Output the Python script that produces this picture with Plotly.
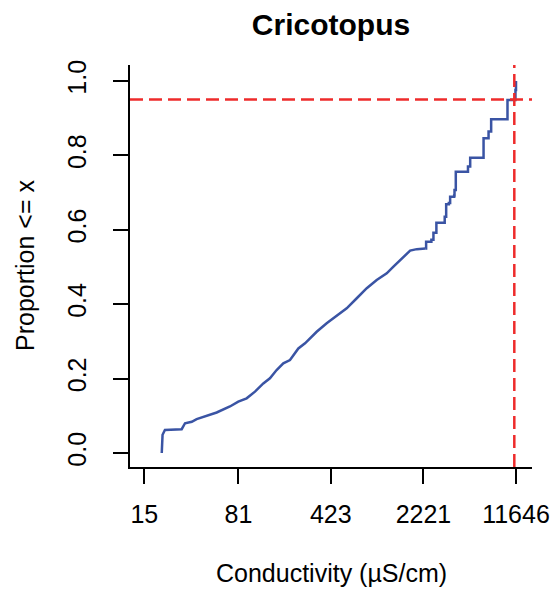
import plotly.graph_objects as go

# Smooth (dense) part of the empirical CDF
smooth_cond = [20.5, 20.8, 21.7, 29.3, 31.1, 35.1, 38.3, 45.8, 54.8, 69.5, 80.7, 93.7,
               108.8, 126.3, 142.2, 160.3, 180.7, 203.7, 236.5, 266.6, 328.4, 392.8,
               484, 562, 673, 805, 962, 1151, 1298, 1507, 1750, 1972, 2300]
smooth_prop = [0.0, 0.049, 0.062, 0.064, 0.080, 0.084, 0.091, 0.0995, 0.109, 0.125, 0.138, 0.147,
               0.165, 0.187, 0.201, 0.223, 0.241, 0.250, 0.281, 0.295, 0.326, 0.349,
               0.371, 0.389, 0.416, 0.443, 0.465, 0.483, 0.501, 0.523, 0.544, 0.548, 0.550]

# Sparse (stepped) upper part of the empirical CDF
step_cond = [2300, 2330, 2560, 2656, 2800, 3250, 3336, 3500, 3581, 3850, 3873, 3963,
             4930, 5129, 6516, 7126, 7464, 10000, 11535, 11646]
step_prop = [0.550, 0.568, 0.573, 0.592, 0.619, 0.635, 0.669, 0.672, 0.689, 0.692, 0.707, 0.756,
             0.770, 0.794, 0.846, 0.864, 0.897, 0.949, 0.976, 1.0]

hc5_cond = 11300      # vertical reference line (95th percentile)
ref_prop = 0.95       # horizontal reference line

x_tick_vals = [15, 81, 423, 2221, 11646]
x_tick_text = ["15", "81", "423", "2221", "11646"]
y_tick_vals = [0.0, 0.2, 0.4, 0.6, 0.8, 1.0]
y_tick_text = ["0.0", "0.2", "0.4", "0.6", "0.8", "1.0"]

BLUE = "#3A54A4"
RED = "#EE2B2B"
FONT = "Liberation Sans, Arial, Helvetica, sans-serif"

W, H = 555, 591
L, R, T, B = 130, 23, 65, 124
PH = H - T - B
PW = W - L - R

fig = go.Figure()
fig.add_trace(go.Scatter(x=smooth_cond, y=smooth_prop, mode="lines",
                         line=dict(color=BLUE, width=2.5), showlegend=False))
fig.add_trace(go.Scatter(x=step_cond, y=step_prop, mode="lines",
                         line=dict(color=BLUE, width=2.5, shape="hv"), showlegend=False))

fig.add_hline(y=ref_prop, line=dict(color=RED, width=2.5, dash="13px,6px"))
fig.add_vline(x=hc5_cond, line=dict(color=RED, width=2.5, dash="13px,6px"))

fig.update_layout(
    width=W, height=H,
    margin=dict(l=L, r=R, t=T, b=B, autoexpand=False),
    paper_bgcolor="white", plot_bgcolor="white",
    font=dict(family=FONT, size=25, color="black"),
    title=dict(text="<b>Cricotopus</b>", x=0.5, xref="paper", xanchor="center",
               y=1 - 24 / H, yref="container", yanchor="middle",
               font=dict(size=30, family=FONT, color="black")),
    xaxis=dict(type="log", range=[1.0649, 4.1906], showgrid=False, zeroline=False,
               automargin=False,
               showline=True, linecolor="black", linewidth=2,
               tickmode="array", tickvals=x_tick_vals, ticktext=x_tick_text,
               ticks="outside", ticklen=15, tickwidth=2, tickcolor="black",
               ticklabelstandoff=9, tickfont=dict(size=25)),
    yaxis=dict(range=[-0.0376, 1.043], showgrid=False, zeroline=False,
               automargin=False,
               showline=True, linecolor="black", linewidth=2,
               tickmode="array", tickvals=y_tick_vals, ticktext=y_tick_text,
               ticks="outside", ticklen=15, tickwidth=2, tickcolor="black",
               tickangle=-90, ticklabelstandoff=17, tickfont=dict(size=25)),
    annotations=[
        dict(text="Conductivity (µS/cm)", xref="paper", yref="paper",
             x=0.5, y=-(573 - 467) / PH, xanchor="center", yanchor="middle",
             showarrow=False, font=dict(size=25)),
        dict(text="Proportion <= x", xref="paper", yref="paper",
             x=-(130 - 25) / PW, y=0.5, xanchor="center", yanchor="middle",
             textangle=-90, showarrow=False, font=dict(size=25)),
    ],
)

# remove the browser's default 8px body margin so the figure fills the window
fig.write_html("out.html", config={"displayModeBar": False},
               post_script="document.body.style.margin='0';")
